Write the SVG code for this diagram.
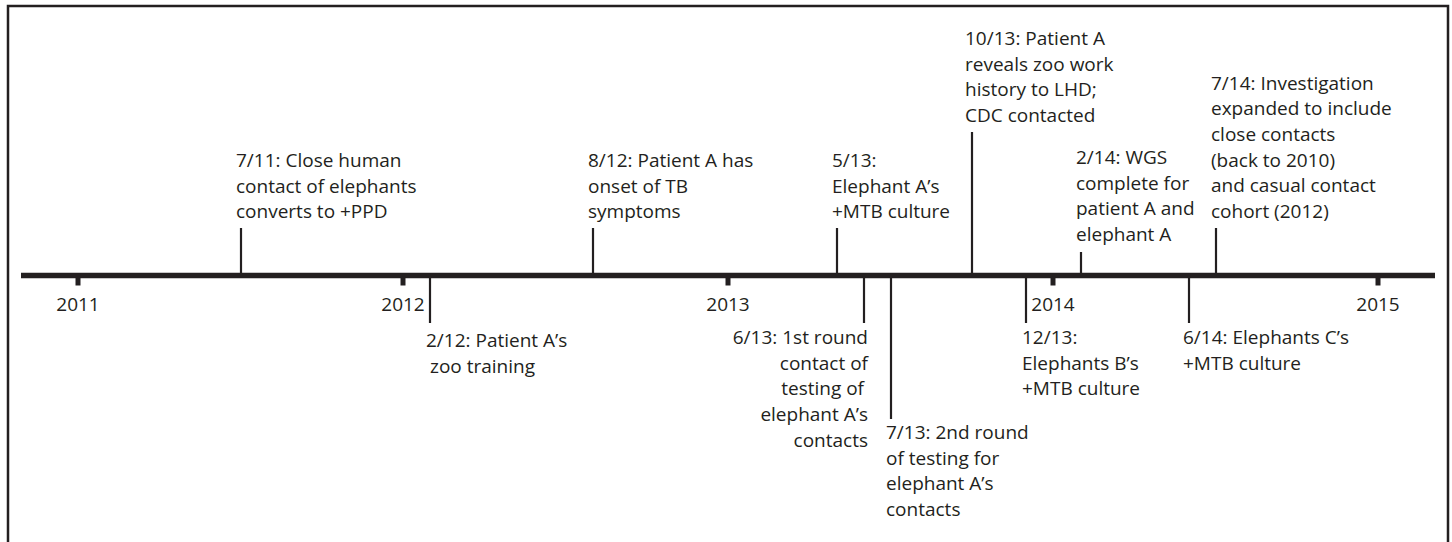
<svg xmlns="http://www.w3.org/2000/svg" width="1452" height="542" viewBox="0 0 1452 542">
<style>
  text { font-family: "Open Sans", "Liberation Sans", sans-serif; font-size: 19px; fill: #231f20; }
  .yr { text-anchor: middle; }
  .end { text-anchor: end; }
  .stub { stroke: #231f20; stroke-width: 2.2; fill: none; }
  .tick { stroke: #231f20; stroke-width: 5; fill: none; }
  .axis { stroke: #231f20; stroke-width: 5.5; fill: none; }
  .frame { stroke: #231f20; stroke-width: 2.5; fill: none; }
</style>
<rect width="1452" height="542" fill="#ffffff"/>
<path class="frame" d="M8,542 V6 H1448 V542"/>

<g id="axis">
  <line class="axis" x1="21" y1="275.5" x2="1435" y2="275.5"/>
  <line class="tick" x1="78" y1="277" x2="78" y2="285.5"/>
  <line class="tick" x1="403" y1="277" x2="403" y2="285.5"/>
  <line class="tick" x1="728" y1="277" x2="728" y2="285.5"/>
  <line class="tick" x1="1053" y1="277" x2="1053" y2="285.5"/>
  <line class="tick" x1="1378" y1="277" x2="1378" y2="285.5"/>
  <text class="yr" x="78" y="311">2011</text>
  <text class="yr" x="403" y="311">2012</text>
  <text class="yr" x="728" y="311">2013</text>
  <text class="yr" x="1053" y="311">2014</text>
  <text class="yr" x="1378" y="311">2015</text>
</g>

<g id="connectors">
  <line class="stub" x1="241" y1="228" x2="241" y2="275"/>
  <line class="stub" x1="593" y1="228" x2="593" y2="275"/>
  <line class="stub" x1="837" y1="228" x2="837" y2="275"/>
  <line class="stub" x1="972" y1="132" x2="972" y2="275"/>
  <line class="stub" x1="1081" y1="252" x2="1081" y2="275"/>
  <line class="stub" x1="1216" y1="228" x2="1216" y2="275"/>
  <line class="stub" x1="430" y1="276" x2="430" y2="323"/>
  <line class="stub" x1="864" y1="276" x2="864" y2="323"/>
  <line class="stub" x1="891" y1="276" x2="891" y2="419"/>
  <line class="stub" x1="1026" y1="276" x2="1026" y2="323"/>
  <line class="stub" x1="1189" y1="276" x2="1189" y2="323"/>
</g>

<g id="e-7-11">
  <text x="236" y="167">7/11: Close human</text>
  <text x="236" y="192.5">contact of elephants</text>
  <text x="236" y="218">converts to +PPD</text>
</g>
<g id="e-2-12">
  <text x="426" y="347">2/12: Patient A’s</text>
  <text x="430" y="372.5">zoo training</text>
</g>
<g id="e-8-12">
  <text x="588" y="167">8/12: Patient A has</text>
  <text x="588" y="192.5">onset of TB</text>
  <text x="588" y="218">symptoms</text>
</g>
<g id="e-5-13">
  <text x="832" y="167">5/13:</text>
  <text x="832" y="192.5">Elephant A’s</text>
  <text x="832" y="218">+MTB culture</text>
</g>
<g id="e-6-13">
  <text class="end" x="868" y="344">6/13: 1st round</text>
  <text class="end" x="868" y="369.7">contact of</text>
  <text class="end" x="864" y="395.4">testing of</text>
  <text class="end" x="868" y="421">elephant A’s</text>
  <text class="end" x="868" y="446.8">contacts</text>
</g>
<g id="e-7-13">
  <text x="886" y="439">7/13: 2nd round</text>
  <text x="886" y="464.7">of testing for</text>
  <text x="886" y="490.4">elephant A’s</text>
  <text x="886" y="516">contacts</text>
</g>
<g id="e-10-13">
  <text x="965" y="45">10/13: Patient A</text>
  <text x="965" y="70.6">reveals zoo work</text>
  <text x="965" y="96.3">history to LHD;</text>
  <text x="965" y="122">CDC contacted</text>
</g>
<g id="e-12-13">
  <text x="1022" y="344">12/13:</text>
  <text x="1022" y="369.7">Elephants B’s</text>
  <text x="1022" y="395.4">+MTB culture</text>
</g>
<g id="e-2-14">
  <text x="1076" y="164">2/14: WGS</text>
  <text x="1076" y="189.6">complete for</text>
  <text x="1076" y="215.3">patient A and</text>
  <text x="1076" y="241">elephant A</text>
</g>
<g id="e-6-14">
  <text x="1183" y="344">6/14: Elephants C’s</text>
  <text x="1183" y="369.7">+MTB culture</text>
</g>
<g id="e-7-14">
  <text x="1211" y="89.5">7/14: Investigation</text>
  <text x="1211" y="115.2">expanded to include</text>
  <text x="1211" y="140.9">close contacts</text>
  <text x="1211" y="166.6">(back to 2010)</text>
  <text x="1211" y="192.3">and casual contact</text>
  <text x="1211" y="218">cohort (2012)</text>
</g>
</svg>
